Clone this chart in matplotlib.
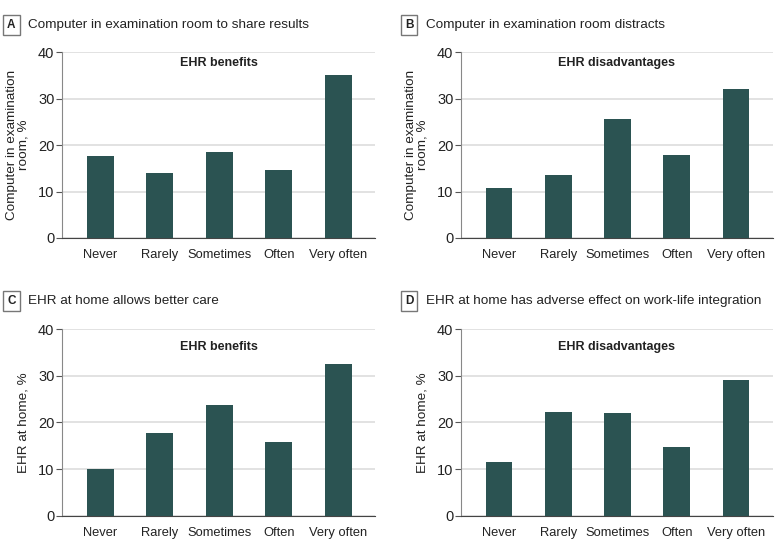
import matplotlib.pyplot as plt

categories = ["Never", "Rarely", "Sometimes", "Often", "Very often"]

share_results = [17.6, 13.9, 18.6, 14.6, 35.2]
room_distracts = [10.7, 13.5, 25.6, 17.9, 32.0]
home_better_care = [10.0, 17.7, 23.8, 15.9, 32.4]
home_work_life = [11.6, 22.3, 22.1, 14.7, 29.1]

panel_letters = ["A", "B", "C", "D"]
panel_titles = [
    "Computer in examination room to share results",
    "Computer in examination room distracts",
    "EHR at home allows better care",
    "EHR at home has adverse effect on work-life integration",
]
inner_labels = ["EHR benefits", "EHR disadvantages", "EHR benefits", "EHR disadvantages"]
y_labels = [
    "Computer in examination\nroom, %",
    "Computer in examination\nroom, %",
    "EHR at home, %",
    "EHR at home, %",
]
yticks = [0, 10, 20, 30, 40]

bar_color = "#2b5352"
plt.rcParams["font.family"] = ["Liberation Sans", "DejaVu Sans"]

fig = plt.figure(figsize=(7.83, 5.48), dpi=100)

# axes rectangles in figure fractions (left, bottom, width, height)
rects = [
    (0.0792, 0.5657, 0.400, 0.339),
    (0.5888, 0.5657, 0.398, 0.339),
    (0.0792, 0.0589, 0.400, 0.3407),
    (0.5888, 0.0589, 0.398, 0.3407),
]
inner_y = [0.94, 0.94, 0.905, 0.905]
title_y = [0.955, 0.955, 0.451, 0.451]
letter_x = [0.0145, 0.5225, 0.0145, 0.5225]

series = [share_results, room_distracts, home_better_care, home_work_life]

for i in range(4):
    ax = fig.add_axes(rects[i])
    x = list(range(len(categories)))
    ax.bar(x, series[i], width=0.45, color=bar_color, zorder=3)
    ax.set_xlim(-0.64, 4.62)
    ax.set_ylim(0, 40)
    ax.set_yticks(yticks)
    ax.set_xticks(x)
    ax.set_xticklabels(categories, fontsize=9.3, color="#222222")
    ax.tick_params(axis="y", labelsize=10.5, length=4, color="#555555", labelcolor="#222222", pad=1.5)
    ax.tick_params(axis="x", length=0, pad=8)
    ax.grid(axis="y", color="#dddddd", linewidth=1.2, zorder=0)
    for s in ["top", "right"]:
        ax.spines[s].set_visible(False)
    ax.spines["left"].set_color("#888888")
    ax.spines["bottom"].set_color("#444444")
    ax.set_ylabel(y_labels[i], fontsize=9.7, color="#222222", labelpad=6, linespacing=1.0)
    ax.text(0.5, inner_y[i], inner_labels[i], transform=ax.transAxes,
            ha="center", va="center", fontsize=9, fontweight="bold", color="#222222")

    # panel letter box and title
    fig.text(letter_x[i], title_y[i], panel_letters[i], ha="center", va="center",
             fontsize=8.5, fontweight="bold", color="#222222",
             bbox=dict(boxstyle="square,pad=0.35", facecolor="white", edgecolor="#777777", linewidth=1))
    fig.text(letter_x[i] + 0.021, title_y[i], panel_titles[i], ha="left", va="center",
             fontsize=9.7, color="#222222")

fig.savefig("out.png", dpi=100)
